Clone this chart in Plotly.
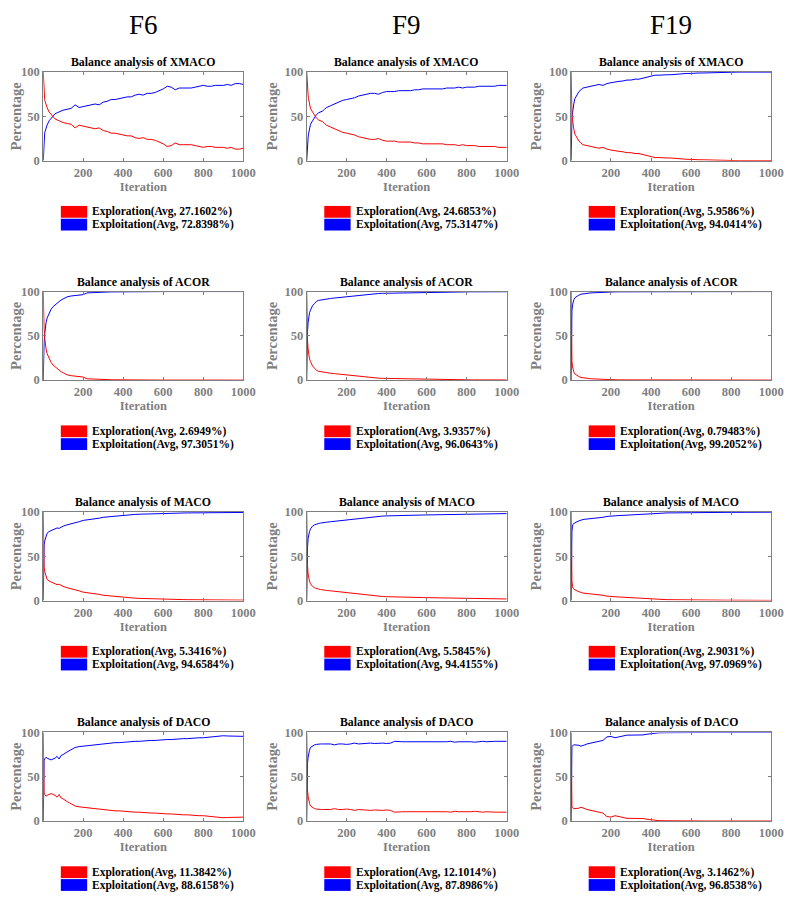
import plotly.graph_objects as go

# page is 798x900; the html body has an 8px margin, so the figure is sized to fit inside it
PAGE_W, PAGE_H = 798, 900
BODY_MARGIN = 8
W, H = PAGE_W - 2 * BODY_MARGIN, PAGE_H - 2 * BODY_MARGIN

FUNCS = ["F6", "F9", "F19"]
ALGOS = ["XMACO", "ACOR", "MACO", "DACO"]

ITER = [1, 2, 3, 5, 8, 10, 15, 20, 30, 40, 50, 60, 70, 80, 90, 100,
        120, 140, 160, 180, 200, 220, 240, 260, 280, 300, 320, 340, 360, 380, 400,
        420, 440, 460, 480, 500, 520, 540, 560, 580, 600, 620, 640, 660, 680, 700,
        720, 740, 760, 780, 800, 820, 840, 860, 880, 900, 920, 940, 960, 980, 1000]

# Exploration percentage (exploitation = 100 - exploration)
EXPL_F6_XMACO = [100, 92, 85, 75, 69, 67, 63, 60, 55, 52, 49, 47, 46, 45, 44, 43,
                 42, 41, 37, 40, 39, 38, 37, 36, 37, 34, 33, 31, 31, 30, 29,
                 28, 28, 26, 25, 26, 24, 24, 23, 21, 19, 16, 17, 20, 18, 18,
                 18, 18, 17, 16, 15, 16, 16, 15, 15, 15, 14, 15, 13, 13, 14]
EXPL_F9_XMACO = [100, 94, 88, 80, 74, 70, 62, 59, 55, 51, 48, 46, 45, 44, 42, 40,
                 38, 36, 34, 32, 31, 30, 29, 27, 26, 25, 24, 24, 25, 23, 22,
                 22, 22, 21, 21, 21, 21, 20, 20, 19, 19, 19, 19, 19, 19, 18,
                 18, 18, 17, 18, 17, 17, 17, 16, 16, 16, 16, 16, 15, 15, 15]
EXPL_F19_XMACO = [100, 70, 60, 52, 46, 42, 35, 30, 25, 22, 20, 18, 17.5, 17, 16.5, 16,
                  15, 14, 15, 13, 12, 11, 10.5, 10, 9, 9, 8, 8, 7, 6, 5,
                  3.5, 3.5, 3, 3, 3, 2.5, 2, 2, 1.5, 1.5, 1, 1, 1, 0.8, 0.5,
                  0.5, 0.3, 0.3, 0.2, 0.1, 0.1, 0, 0, 0, 0, 0, 0, 0, 0, 0]

EXPL_F6_ACOR = [100, 82, 70, 58, 48, 42, 35, 30, 24, 20, 17, 15, 13, 11, 9.5, 8.4,
                6, 5, 4.5, 4, 3.5, 1.5, 1.2, 1, 0.8, 0.6, 0.5, 0.4, 0.4, 0.3, 0.3,
                0.3, 0.2, 0.2, 0.2, 0.1, 0.1, 0.1, 0.1, 0.05, 0.05, 0, 0, 0, 0, 0,
                0, 0, 0, 0, 0, 0, 0, 0, 0, 0, 0, 0, 0, 0, 0]
EXPL_F9_ACOR = [100, 75, 60, 45, 35, 30, 24, 21, 16, 13.5, 11, 10, 9.5, 9, 8.5, 8.2,
                7.8, 7.3, 6.8, 6.2, 5.6, 5, 4.5, 4, 3.5, 3, 2.7, 2.4, 2.2, 2, 1.9,
                1.7, 1.5, 1.3, 1.2, 1.1, 1, 0.9, 0.8, 0.8, 0.7, 0.6, 0.6, 0.5, 0.5, 0.5,
                0.4, 0.4, 0.4, 0.3, 0.3, 0.3, 0.3, 0.2, 0.2, 0.2, 0.2, 0.2, 0.2, 0.2, 0.2]
EXPL_F19_ACOR = [100, 55, 35, 22, 15, 12, 9, 7, 5, 4, 3, 2.5, 2.2, 2, 1.8, 1.5,
                 1.2, 1, 0.8, 0.6, 0.5, 0.4, 0.3, 0.3, 0.2, 0.2, 0.1, 0.1, 0.1, 0.1, 0.1,
                 0, 0, 0, 0, 0, 0, 0, 0, 0, 0, 0, 0, 0, 0, 0,
                 0, 0, 0, 0, 0, 0, 0, 0, 0, 0, 0, 0, 0, 0, 0]

EXPL_F6_MACO = [100, 65, 50, 38, 33, 31, 27, 24, 22, 21, 20, 19, 18, 18.5, 17, 16,
                14.5, 13.5, 12.5, 11, 9.5, 9, 8.5, 7.5, 7, 6, 5.5, 5, 4.5, 4, 3.5,
                3.2, 3, 2.7, 2.5, 2.3, 2.1, 2, 1.8, 1.7, 1.5, 1.4, 1.3, 1.3, 1.2, 1.1,
                1, 1, 0.9, 0.9, 0.8, 0.8, 0.7, 0.7, 0.6, 0.6, 0.6, 0.6, 0.5, 0.5, 0.5]
EXPL_F9_MACO = [100, 70, 55, 40, 30, 27, 22, 19, 16, 14.5, 13.5, 13, 12.5, 12, 12, 11.5,
                11, 10.5, 10, 9.5, 9, 8.5, 8, 7, 6.5, 6, 5.5, 5.3, 5, 4.6, 4.4,
                4.2, 4, 3.8, 3.8, 3.7, 3.6, 3.5, 3.5, 3.4, 3.3, 3.2, 3.1, 3, 3, 2.9,
                2.9, 2.8, 2.7, 2.6, 2.6, 2.5, 2.4, 2.3, 2.2, 2.2, 2.1, 2, 2, 1.9, 1.8]
EXPL_F19_MACO = [100, 55, 35, 22, 16, 14, 13, 12, 11, 10, 9, 8.5, 8.2, 8, 7.7, 7.4,
                 7, 6.5, 6, 5, 4.4, 4.2, 4, 3.8, 3.5, 3.3, 3, 2.7, 2.3, 1.8, 1.5,
                 1.3, 1.2, 1.1, 1, 1, 0.9, 0.9, 0.8, 0.8, 0.7, 0.7, 0.6, 0.6, 0.5, 0.5,
                 0.5, 0.4, 0.4, 0.4, 0.4, 0.3, 0.3, 0.3, 0.3, 0.2, 0.2, 0.2, 0.2, 0.2, 0.2]

EXPL_F6_DACO = [100, 60, 40, 32, 30, 29, 28, 29, 30, 31, 30, 29, 27, 30, 26, 25,
                22, 19, 17, 16, 15.5, 14.5, 14, 13.5, 13, 13, 12.5, 12, 11.5, 11.5, 11,
                10.5, 10.5, 10, 10, 9.5, 9.5, 9, 9, 8.5, 8, 8, 8, 7.5, 7.5, 7,
                7, 6.5, 6.5, 6, 6, 5.5, 5, 5, 4.5, 3.7, 4, 4.2, 4.5, 4.3, 4.4]
EXPL_F9_DACO = [100, 65, 50, 35, 28, 25, 20, 17, 15, 14, 13.5, 13, 13, 13, 13, 13,
                13, 14, 13, 13, 13.5, 13, 12, 13, 12.5, 12, 12, 12.5, 12, 12, 12.5,
                12, 10, 10.5, 10.5, 10.5, 10.5, 11, 10.5, 10.5, 10.5, 10.5, 10.5, 11, 10.5, 10.5,
                10, 11, 10.5, 10.5, 10, 10.5, 11, 10.5, 10, 10.5, 10, 10, 10, 10, 10]
EXPL_F19_DACO = [100, 50, 25, 16, 15, 14.5, 14, 14, 14, 14.5, 15.5, 15, 14, 13, 12.5, 11.8,
                 11, 10, 9, 5, 4.5, 6, 5, 4, 3, 3, 3, 3, 2.8, 2, 1.2,
                 0.8, 0.4, 0.3, 0.2, 0.2, 0.1, 0.1, 0.1, 0.1, 0.1, 0, 0, 0, 0, 0,
                 0, 0, 0, 0, 0, 0, 0, 0, 0, 0, 0, 0, 0, 0, 0]

EXPLORATION = [
    [EXPL_F6_XMACO, EXPL_F9_XMACO, EXPL_F19_XMACO],
    [EXPL_F6_ACOR, EXPL_F9_ACOR, EXPL_F19_ACOR],
    [EXPL_F6_MACO, EXPL_F9_MACO, EXPL_F19_MACO],
    [EXPL_F6_DACO, EXPL_F9_DACO, EXPL_F19_DACO],
]

AVG_EXPLORATION = [["27.1602", "24.6853", "5.9586"],
                   ["2.6949", "3.9357", "0.79483"],
                   ["5.3416", "5.5845", "2.9031"],
                   ["11.3842", "12.1014", "3.1462"]]
AVG_EXPLOITATION = [["72.8398", "75.3147", "94.0414"],
                    ["97.3051", "96.0643", "99.2052"],
                    ["94.6584", "94.4155", "97.0969"],
                    ["88.6158", "87.8986", "96.8538"]]

X_TICKS = [200, 400, 600, 800, 1000]
Y_TICKS = [0, 50, 100]

# layout geometry (page pixels)
COL_LEFT = [38, 308, 579]
PLOT_W = 205
ROW_TOP = [66, 289, 513, 737]
PLOT_H = 90

FONT = "Liberation Serif"
GRAY = "#7f7f7f"


def px_x(p):
    return (p - BODY_MARGIN) / W


def px_y(p):
    return 1 - (p - BODY_MARGIN) / H


fig = go.Figure()
annotations = []
shapes = []

idx = 0
for r, algo in enumerate(ALGOS):
    for c, fn in enumerate(FUNCS):
        idx += 1
        sfx = "" if idx == 1 else str(idx)
        xa, ya = "x" + sfx, "y" + sfx
        expl = EXPLORATION[r][c]
        exploit = [100 - v for v in expl]
        fig.add_trace(go.Scatter(x=ITER, y=exploit, mode="lines",
                                 line=dict(color="#0000ff", width=1),
                                 xaxis=xa, yaxis=ya, showlegend=False))
        fig.add_trace(go.Scatter(x=ITER, y=expl, mode="lines",
                                 line=dict(color="#ff0000", width=1),
                                 xaxis=xa, yaxis=ya, showlegend=False))
        left = COL_LEFT[c]
        top = ROW_TOP[r]
        bottom = top + PLOT_H
        axis_common = dict(
            showline=True, linecolor=GRAY, linewidth=1, mirror="ticks",
            ticks="inside", ticklen=3, tickcolor=GRAY, showgrid=False, zeroline=False,
            tickfont=dict(family=FONT, size=12.5, color=GRAY, weight="bold"),
        )
        fig.layout["xaxis" + sfx] = dict(
            axis_common,
            domain=[px_x(left), px_x(left + PLOT_W)],
            range=[1, 1000], tickvals=X_TICKS, anchor=ya,
            title=dict(text="Iteration", standoff=2,
                       font=dict(family=FONT, size=12.5, color=GRAY, weight="bold")),
        )
        fig.layout["yaxis" + sfx] = dict(
            axis_common,
            domain=[px_y(bottom), px_y(top)],
            range=[0, 100], tickvals=Y_TICKS, anchor=xa,
            title=dict(text="Percentage", standoff=3,
                       font=dict(family=FONT, size=14.5, color=GRAY, weight="bold")),
        )
        cx = left + PLOT_W / 2
        annotations.append(dict(
            text="<b>Balance analysis of %s</b>" % algo,
            x=px_x(cx), y=px_y(top - 1), xref="paper", yref="paper",
            xanchor="center", yanchor="bottom", showarrow=False,
            font=dict(family=FONT, size=11.8, color="black")))
        # legend box
        lx0 = left + 18
        lx1 = left + 45
        shapes.append(dict(type="rect", xref="paper", yref="paper",
                           x0=px_x(lx0), x1=px_x(lx1),
                           y0=px_y(bottom + 58), y1=px_y(bottom + 46),
                           fillcolor="#ff0000", line=dict(width=0)))
        shapes.append(dict(type="rect", xref="paper", yref="paper",
                           x0=px_x(lx0), x1=px_x(lx1),
                           y0=px_y(bottom + 71), y1=px_y(bottom + 59),
                           fillcolor="#0000ff", line=dict(width=0)))
        annotations.append(dict(
            text="<b>Exploration(Avg, %s%%)</b>" % AVG_EXPLORATION[r][c],
            x=px_x(lx1 + 3), y=px_y(bottom + 52), xref="paper", yref="paper",
            xanchor="left", yanchor="middle", showarrow=False,
            font=dict(family=FONT, size=11.5, color="black")))
        annotations.append(dict(
            text="<b>Exploitation(Avg, %s%%)</b>" % AVG_EXPLOITATION[r][c],
            x=px_x(lx1 + 3), y=px_y(bottom + 65), xref="paper", yref="paper",
            xanchor="left", yanchor="middle", showarrow=False,
            font=dict(family=FONT, size=11.5, color="black")))

for c, fn in enumerate(FUNCS):
    annotations.append(dict(
        text=fn, x=px_x(COL_LEFT[c] + PLOT_W / 2), y=px_y(18),
        xref="paper", yref="paper", xanchor="center", yanchor="middle",
        showarrow=False, font=dict(family=FONT, size=27, color="black")))

fig.update_layout(
    width=W, height=H,
    margin=dict(l=0, r=0, t=0, b=0),
    paper_bgcolor="white", plot_bgcolor="white",
    annotations=annotations, shapes=shapes,
    showlegend=False,
)

fig.write_html("out.html")
